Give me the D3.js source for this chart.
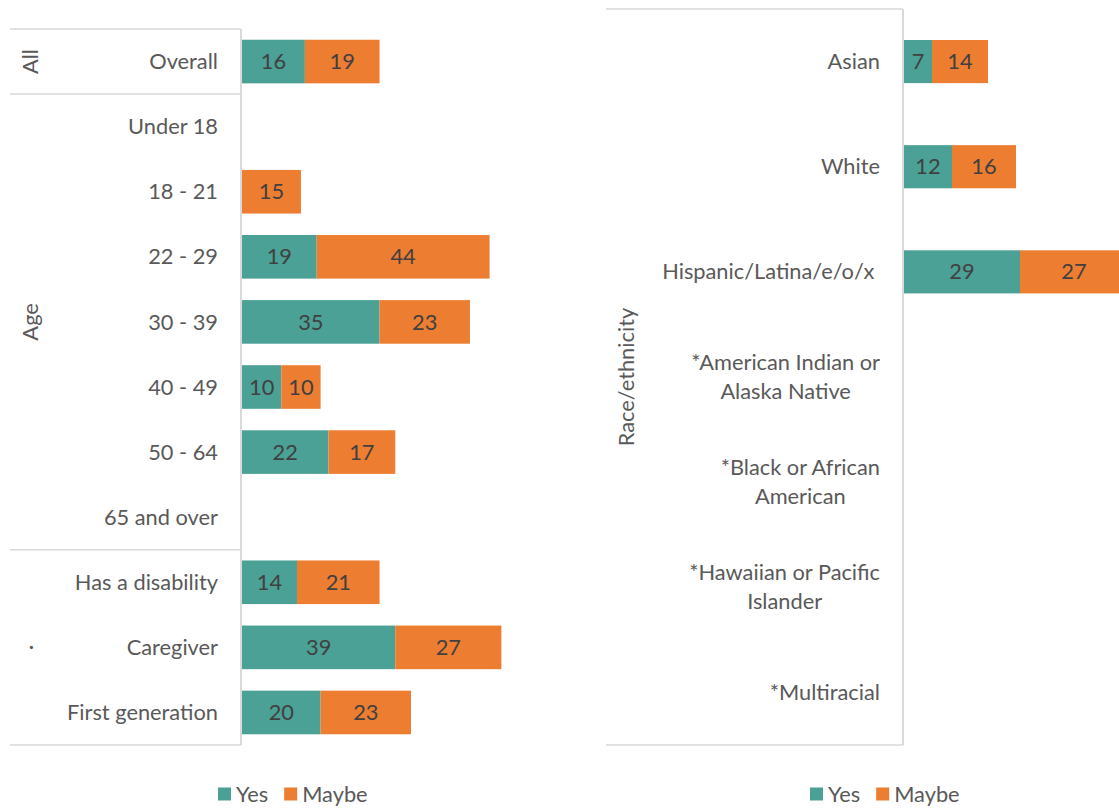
<!DOCTYPE html>
<html>
<head>
<meta charset="utf-8">
<script src="https://cdn.jsdelivr.net/npm/d3@7"></script>
<style>
  html, body { margin: 0; padding: 0; background: #fff; }
  svg text { font-family: Lato, "Open Sans", sans-serif; }
</style>
</head>
<body>
<svg id="chart" width="1119" height="808"></svg>
<script>
// ---- Data ----
const leftCategories = ["Overall", "Under 18", "18 - 21", "22 - 29", "30 - 39", "40 - 49",
  "50 - 64", "65 and over", "Has a disability", "Caregiver", "First generation"];
const leftYes   = [16, null, null, 19, 35, 10, 22, null, 14, 39, 20];
const leftMaybe = [19, null, 15, 44, 23, 10, 17, null, 21, 27, 23];
const leftGroups = [
  { label: "All", start: 0, end: 0 },
  { label: "Age", start: 1, end: 7 },
  { label: "\u00b7", start: 8, end: 10 }
];

const rightCategories = ["Asian", "White", "Hispanic/Latina/e/o/x ",
  "*American Indian or\nAlaska Native", "*Black or African\nAmerican",
  "*Hawaiian or Pacific\nIslander", "*Multiracial"];
const rightYes   = [7, 12, 29, null, null, null, null];
const rightMaybe = [14, 16, 27, null, null, null, null];
const rightGroups = [{ label: "Race/ethnicity", start: 0, end: 6 }];

const seriesNames = ["Yes", "Maybe"];
const colors = { Yes: "#4ba196", Maybe: "#ed7d31" };

const svg = d3.select("#chart");
const textColor = "#595959";
const labelColor = "#404040";
const gridColor = "#d9d9d9";
const fontSize = 21.8;

function drawPanel(cfg) {
  const { categories, yes, maybe, groups, x0, pxPerUnit, top, bottom,
          padInner, groupLeft, groupLabelX, labelRight } = cfg;
  const g = svg.append("g");

  const y = d3.scaleBand()
    .domain(categories)
    .range([top, bottom])
    .paddingInner(padInner)
    .paddingOuter(padInner / 2);

  const x = d3.scaleLinear().domain([0, 100]).range([x0, x0 + 100 * pxPerUnit]);

  // group separator lines at the band edges between groups
  const step = y.step();
  const edgeOf = i => top + i * step;
  const boundaries = new Set();
  groups.forEach(gr => {
    boundaries.add(gr.start);
    boundaries.add(gr.end + 1);
  });
  boundaries.forEach(i => {
    g.append("line")
      .attr("x1", groupLeft).attr("x2", x0 - 1)
      .attr("y1", edgeOf(i)).attr("y2", edgeOf(i))
      .attr("stroke", gridColor).attr("stroke-width", 1.5);
  });

  // vertical axis line
  g.append("line")
    .attr("x1", x0 - 1).attr("x2", x0 - 1)
    .attr("y1", top).attr("y2", bottom)
    .attr("stroke", gridColor).attr("stroke-width", 2);

  // group labels (rotated)
  groups.forEach(gr => {
    const cy = (edgeOf(gr.start) + edgeOf(gr.end + 1)) / 2;
    g.append("text")
      .attr("transform", `translate(${groupLabelX},${cy}) rotate(-90)`)
      .attr("text-anchor", "middle")
      .attr("dominant-baseline", "central")
      .attr("fill", textColor)
      .attr("font-size", fontSize)
      .text(gr.label);
  });

  // category labels (multi-line blocks are centred, block right-aligned)
  categories.forEach(c => {
    const lines = c.split("\n");
    const cy = y(c) + y.bandwidth() / 2;
    const t = g.append("text")
      .attr("fill", textColor)
      .attr("font-size", fontSize)
      .style("white-space", "pre");
    const lh = 29;
    lines.forEach((ln, i) => {
      t.append("tspan")
        .attr("y", cy + (i - (lines.length - 1) / 2) * lh)
        .attr("dy", "0.35em")
        .text(ln);
    });
    if (lines.length === 1) {
      t.attr("text-anchor", "end").selectAll("tspan").attr("x", labelRight);
    } else {
      let w = 0;
      t.selectAll("tspan").each(function () { w = Math.max(w, this.getComputedTextLength()); });
      t.attr("text-anchor", "middle").selectAll("tspan").attr("x", labelRight - w / 2);
    }
  });

  // stacked bars
  const rows = categories.map((c, i) => ({ cat: c, Yes: yes[i] || 0, Maybe: maybe[i] || 0 }));
  const stack = d3.stack().keys(seriesNames)(rows);
  stack.forEach(layer => {
    const key = layer.key;
    const lg = g.append("g");
    layer.forEach(d => {
      const v = d.data[key];
      if (!v) return;
      const xa = x(d[0]), xb = x(d[1]);
      lg.append("rect")
        .attr("x", xa).attr("y", y(d.data.cat))
        .attr("width", xb - xa).attr("height", y.bandwidth())
        .attr("fill", colors[key]);
      lg.append("text")
        .attr("x", (xa + xb) / 2)
        .attr("y", y(d.data.cat) + y.bandwidth() / 2)
        .attr("dy", "0.35em")
        .attr("text-anchor", "middle")
        .attr("fill", labelColor)
        .attr("font-size", fontSize)
        .text(v);
    });
  });
}

drawPanel({
  categories: leftCategories, yes: leftYes, maybe: leftMaybe, groups: leftGroups,
  x0: 242, pxPerUnit: 3.93, top: 29, bottom: 745, padInner: 0.33,
  groupLeft: 10, groupLabelX: 29, labelRight: 218
});

drawPanel({
  categories: rightCategories, yes: rightYes, maybe: rightMaybe, groups: rightGroups,
  x0: 904, pxPerUnit: 4.0, top: 9, bottom: 745, padInner: 0.59,
  groupLeft: 606, groupLabelX: 625, labelRight: 880
});

// legends
function legend(xStart) {
  const lg = svg.append("g").attr("transform", `translate(${xStart},794)`);
  let xx = 0;
  seriesNames.forEach(name => {
    lg.append("rect").attr("x", xx).attr("y", -6.5).attr("width", 13).attr("height", 13)
      .attr("fill", colors[name]);
    const t = lg.append("text").attr("x", xx + 18).attr("y", 0).attr("dy", "0.35em")
      .attr("fill", textColor).attr("font-size", fontSize).text(name);
    xx += 18 + t.node().getComputedTextLength() + 16;
  });
}
legend(218);
legend(810);
</script>
</body>
</html>
